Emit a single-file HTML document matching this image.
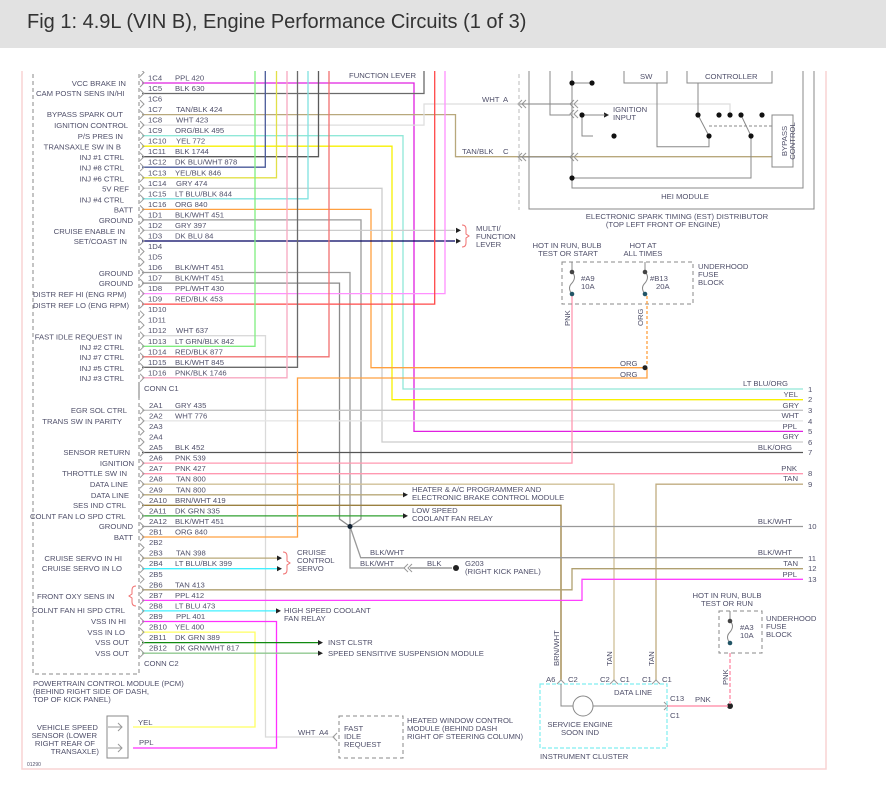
<!DOCTYPE html>
<html><head><meta charset="utf-8"><style>
html,body{margin:0;padding:0;background:#fff;width:886px;height:805px;overflow:hidden}
svg{display:block}
text{font-family:"Liberation Sans",sans-serif;font-size:7.7px;fill:#50506a}
.e{text-anchor:end}.m{text-anchor:middle}
</style></head><body>
<svg width="886" height="805" viewBox="0 0 886 805" xmlns="http://www.w3.org/2000/svg">
<g fill="none" stroke-width="1.3">
<path d="M22 60 V769 H826 V60" stroke="#f8d4d4" stroke-width="1.5"/>
<path d="M33 60 V674 H139 V60" stroke="#888" stroke-dasharray="4,3" stroke-width="1"/>
<polyline points="142,83 414,83 414,431.4 803,431.4" stroke="#e020e0"/>
<polyline points="142,93.5 424,93.5 424,60" stroke="#6a6a6a"/>
<polyline points="142,114.6 455.5,114.6 455.5,156.7 772,156.7" stroke="#b8a87c"/>
<polyline points="142,125.1 424,125.1 424,104 730,104 730,115" stroke="#dedede"/>
<polyline points="142,135.7 403,135.7 403,389 803,389" stroke="#90e8d8"/>
<polyline points="142,146.2 392,146.2 392,399.7 803,399.7" stroke="#f8f000"/>
<polyline points="142,156.7 318.5,156.7 318.5,60" stroke="#5a5a5a"/>
<polyline points="142,167.2 265.3,167.2 265.3,60" stroke="#4a5a9a"/>
<polyline points="142,177.8 276.5,177.8 276.5,60" stroke="#e2e048"/>
<polyline points="142,188.3 382,188.3 382,442 803,442" stroke="#cccccc"/>
<polyline points="142,198.8 308,198.8 308,60" stroke="#80e2e0"/>
<polyline points="142,209.4 371,209.4 371,367.7 645,367.7" stroke="#ffa040"/>
<polyline points="142,219.9 361,219.9 361,519 350,526.5" stroke="#9a9a9a"/>
<polyline points="142,230.4 455,230.4" stroke="#cccccc"/>
<polyline points="142,241 455,241" stroke="#000060"/>
<polyline points="142,272.5 350,272.5 350,526.5" stroke="#9a9a9a"/>
<polyline points="142,283.1 339.5,283.1 339.5,519 350,526.5" stroke="#8a8a8a"/>
<polyline points="142,293.6 445,293.6 445,60" stroke="#ff90ff"/>
<polyline points="142,304.1 434.7,304.1 434.7,60" stroke="#ff4848"/>
<polyline points="142,335.7 265.5,335.7 265.5,737 335,737" stroke="#dadada"/>
<polyline points="142,346.3 255,346.3 255,60" stroke="#80ee80"/>
<polyline points="142,356.8 329,356.8 329,60" stroke="#f07070"/>
<polyline points="142,367.3 297.5,367.3 297.5,60" stroke="#6a6a6a"/>
<polyline points="142,377.8 287,377.8 287,60" stroke="#f8a8c0"/>
<polyline points="142,410.3 803,410.3" stroke="#c4c4c4"/>
<polyline points="142,420.9 803,420.9" stroke="#e4e4e4"/>
<polyline points="142,452.5 803,452.5" stroke="#555"/>
<polyline points="142,463.1 572,463.1 572,296" stroke="#ff98b0"/>
<polyline points="142,473.7 803,473.7" stroke="#ff98b0"/>
<polyline points="142,484.2 614,484.2 614,680" stroke="#d0c098"/>
<polyline points="656,680 656,484.2 803,484.2" stroke="#c0ac80"/>
<polyline points="142,494.8 404,494.8" stroke="#b8a878"/>
<polyline points="142,505.3 561,505.3 561,680" stroke="#9a8040"/>
<polyline points="142,515.9 404,515.9" stroke="#30a030"/>
<polyline points="142,526.5 803,526.5" stroke="#999"/>
<polyline points="142,537 297.5,537 297.5,378 647,378 647,368" stroke="#ffa040"/>
<polyline points="350,526.5 360.7,557.7 803,557.7" stroke="#999"/>
<polyline points="350,526.5 350,568 405,568" stroke="#999"/>
<polyline points="410,568 452,568" stroke="#666" stroke-width="1"/>
<polyline points="142,558.1 278,558.1" stroke="#b8a878"/>
<polyline points="142,568.7 278,568.7" stroke="#40f0ff"/>
<polyline points="142,589.8 572,589.8 572,568.7 803,568.7" stroke="#b0a070"/>
<polyline points="142,600.4 582,600.4 582,579.3 803,579.3" stroke="#ff40ff"/>
<polyline points="142,610.9 278,610.9" stroke="#40f0ff"/>
<polyline points="142,621.5 276.5,621.5 276.5,748 133,748" stroke="#ff30ff"/>
<polyline points="142,632.1 255,632.1 255,727 133,727" stroke="#ffff60"/>
<polyline points="142,642.6 318,642.6" stroke="#108a10"/>
<polyline points="142,653.2 318,653.2" stroke="#90c890"/>
</g>
<g fill="#222">
<path d="M456 227.8 L461 230.4 L456 233 Z"/><path d="M456 238.4 L461 241 L456 243.6 Z"/>
<path d="M403 492.2 L408 494.8 L403 497.4 Z"/><path d="M403 513.3 L408 515.9 L403 518.5 Z"/>
<path d="M277 555.5 L282 558.1 L277 560.7 Z"/><path d="M277 566.1 L282 568.7 L277 571.3 Z"/>
<path d="M276 608.3 L281 610.9 L276 613.5 Z"/>
<path d="M318 640 L323 642.6 L318 645.2 Z"/><path d="M318 650.6 L323 653.2 L318 655.8 Z"/>
<path d="M604 112.4 L609 115 L604 117.6 Z"/>
<circle cx="350" cy="526.5" r="2.5" fill="#123"/>
<circle cx="456" cy="568" r="3"/>
<circle cx="645" cy="367.7" r="2.5"/>
<circle cx="730" cy="706" r="3"/>
</g>
<g fill="none" stroke="#999" stroke-width="1">
<path d="M140 68.5l4 4-4 4M140 79l4 4-4 4M140 89.5l4 4-4 4M140 100.1l4 4-4 4M140 110.6l4 4-4 4M140 121.1l4 4-4 4M140 131.7l4 4-4 4M140 142.2l4 4-4 4M140 152.7l4 4-4 4M140 163.2l4 4-4 4M140 173.8l4 4-4 4M140 184.3l4 4-4 4M140 194.8l4 4-4 4M140 205.4l4 4-4 4M140 215.9l4 4-4 4M140 226.4l4 4-4 4M140 237l4 4-4 4M140 247.5l4 4-4 4M140 258l4 4-4 4M140 268.5l4 4-4 4M140 279.1l4 4-4 4M140 289.6l4 4-4 4M140 300.1l4 4-4 4M140 310.7l4 4-4 4M140 321.2l4 4-4 4M140 331.7l4 4-4 4M140 342.3l4 4-4 4M140 352.8l4 4-4 4M140 363.3l4 4-4 4M140 373.8l4 4-4 4"/>
<path d="M140 406.3l4 4-4 4M140 416.9l4 4-4 4M140 427.4l4 4-4 4M140 438l4 4-4 4M140 448.5l4 4-4 4M140 459.1l4 4-4 4M140 469.7l4 4-4 4M140 480.2l4 4-4 4M140 490.8l4 4-4 4M140 501.3l4 4-4 4M140 511.9l4 4-4 4M140 522.5l4 4-4 4M140 533l4 4-4 4M140 543.6l4 4-4 4M140 554.1l4 4-4 4M140 564.7l4 4-4 4M140 575.3l4 4-4 4M140 585.8l4 4-4 4M140 596.4l4 4-4 4M140 606.9l4 4-4 4M140 617.5l4 4-4 4M140 628.1l4 4-4 4M140 638.6l4 4-4 4M140 649.2l4 4-4 4"/>
<path d="M139 382 V398" stroke="#777"/>
<path d="M408 564l-4 4 4 4M412 564l-4 4 4 4"/>
<path d="M522 100l-4 4 4 4M526 100l-4 4 4 4M522 153l-4 4 4 4M526 153l-4 4 4 4"/>
<path d="M574 100l-4 4 4 4M578 100l-4 4 4 4M574 110l-4 4 4 4M578 110l-4 4 4 4M574 153l-4 4 4 4M578 153l-4 4 4 4"/>
<path d="M337 733l-4 4 4 4"/>
<path d="M118 723l4 4-4 4M118 744l4 4-4 4M108 727H122M108 748H122"/>
<path d="M557 684l4-4 4 4M610 684l4-4 4 4M652 684l4-4 4 4"/>
<path d="M664 702l4 4-4 4"/>
</g>
<g fill="none" stroke="#f07070" stroke-width="1">
<path d="M462 225 q4 0 4 4 v5 l3 2 l-3 2 v5 q0 4 -4 4"/>
<path d="M283 552 q4 0 4 4 v5 l3 2 l-3 2 v5 q0 4 -4 4"/>
<path d="M136 586 q-4 0 -4 4 v4 l-3 2 l3 2 v4 q0 4 4 4"/>
</g>
<g fill="none" stroke="#888" stroke-width="1">
<path d="M529 60 V209 H814 V60"/>
<path d="M519 60 V210" stroke-dasharray="4,3" stroke="#bbb"/>
<path d="M572 60 V188 H803 V60"/>
<path d="M624 60 V83 H667 V60M687 60 V83 H772 V60"/>
<path d="M550 60 V115 H570"/>
<path d="M572 83 H592 M582 115 H605 M582 115 V136 H593"/>
<path d="M519 104 H571 M519 157 H571"/>
<path d="M657 83 V146.7 H709 V136 M698 83 V115 L709 136 M741 115 L751 136 V178 H572"/>
<path d="M709 126 H772" stroke-dasharray="3,2"/>
<path d="M772 115 H793 V167 H772 Z"/>
</g>
<g fill="#111">
<circle cx="572" cy="83" r="2.6"/><circle cx="592" cy="83" r="2.6"/><circle cx="582" cy="115" r="2.6"/>
<circle cx="614" cy="136" r="2.6"/><circle cx="572" cy="178" r="2.6"/>
<circle cx="698" cy="115" r="2.6"/><circle cx="719" cy="115" r="2.6"/><circle cx="730" cy="115" r="2.6"/><circle cx="741" cy="115" r="2.6"/><circle cx="762" cy="115" r="2.6"/>
<circle cx="709" cy="136" r="2.6"/><circle cx="751" cy="136" r="2.6"/>
</g>
<g fill="none" stroke="#888" stroke-width="1">
<path d="M562 262 H693 V304 H562 Z" stroke-dasharray="4,3"/>
<path d="M572 262 V272 M645 262 V272"/>
<path d="M572 272 q5 5 0 11 q-5 5 0 11 M645 272 q5 5 0 11 q-5 5 0 11"/>
<path d="M719 611 H762 V653 H719 Z" stroke-dasharray="4,3"/>
<path d="M730 611 V621 M730 621 q5 5 0 11 q-5 5 0 11"/>
<path d="M540 684 H667 V748 H540 Z" stroke="#80eef0" stroke-dasharray="4,2" stroke-width="1.2"/>
<path d="M561 684 V706 H573 M593 706 H666"/>
<circle cx="583" cy="706" r="10"/>
<path d="M107 716 H128 V758 H107 Z"/>
<path d="M339 716 H403 V758 H339 Z" stroke-dasharray="4,3"/>
</g>
<path d="M647 296 V366" stroke="#ffa040" stroke-width="1.3" stroke-dasharray="3,2"/>
<path d="M730 653 V704" stroke="#ff98b0" stroke-width="1.5" stroke-dasharray="4,2"/>
<path d="M668 706 H728" stroke="#ff98b0" stroke-width="1.5"/>
<g fill="#444"><circle cx="572" cy="272" r="2.3"/><circle cx="572" cy="294" r="2.3" fill="#256"/><circle cx="645" cy="272" r="2.3"/><circle cx="645" cy="294" r="2.3" fill="#256"/><circle cx="730" cy="621" r="2.3"/><circle cx="730" cy="643" r="2.3" fill="#256"/></g>

<text x="148" y="80.5">1C4</text><text x="175" y="80.5">PPL 420</text>
<text x="148" y="91">1C5</text><text x="175" y="91">BLK 630</text>
<text x="148" y="101.6">1C6</text>
<text x="148" y="112.1">1C7</text><text x="176" y="112.1">TAN/BLK 424</text>
<text x="148" y="122.6">1C8</text><text x="176" y="122.6">WHT 423</text>
<text x="148" y="133.2">1C9</text><text x="175" y="133.2">ORG/BLK 495</text>
<text x="148" y="143.7">1C10</text><text x="176" y="143.7">YEL 772</text>
<text x="148" y="154.2">1C11</text><text x="175" y="154.2">BLK 1744</text>
<text x="148" y="164.7">1C12</text><text x="175" y="164.7">DK BLU/WHT 878</text>
<text x="148" y="175.3">1C13</text><text x="175" y="175.3">YEL/BLK 846</text>
<text x="148" y="185.8">1C14</text><text x="176" y="185.8">GRY 474</text>
<text x="148" y="196.3">1C15</text><text x="175" y="196.3">LT BLU/BLK 844</text>
<text x="148" y="206.9">1C16</text><text x="175" y="206.9">ORG 840</text>
<text x="148" y="217.4">1D1</text><text x="175" y="217.4">BLK/WHT 451</text>
<text x="148" y="227.9">1D2</text><text x="175" y="227.9">GRY 397</text>
<text x="148" y="238.5">1D3</text><text x="175" y="238.5">DK BLU 84</text>
<text x="148" y="249">1D4</text>
<text x="148" y="259.5">1D5</text>
<text x="148" y="270">1D6</text><text x="175" y="270">BLK/WHT 451</text>
<text x="148" y="280.6">1D7</text><text x="175" y="280.6">BLK/WHT 451</text>
<text x="148" y="291.1">1D8</text><text x="175" y="291.1">PPL/WHT 430</text>
<text x="148" y="301.6">1D9</text><text x="175" y="301.6">RED/BLK 453</text>
<text x="148" y="312.2">1D10</text>
<text x="148" y="322.7">1D11</text>
<text x="148" y="333.2">1D12</text><text x="176" y="333.2">WHT 637</text>
<text x="148" y="343.8">1D13</text><text x="175" y="343.8">LT GRN/BLK 842</text>
<text x="148" y="354.3">1D14</text><text x="175" y="354.3">RED/BLK 877</text>
<text x="148" y="364.8">1D15</text><text x="175" y="364.8">BLK/WHT 845</text>
<text x="148" y="375.3">1D16</text><text x="175" y="375.3">PNK/BLK 1746</text>
<text x="144" y="391">CONN C1</text>
<text x="149" y="407.8">2A1</text><text x="175" y="407.8">GRY 435</text>
<text x="149" y="418.4">2A2</text><text x="175" y="418.4">WHT 776</text>
<text x="149" y="428.9">2A3</text>
<text x="149" y="439.5">2A4</text>
<text x="149" y="450">2A5</text><text x="175" y="450">BLK 452</text>
<text x="149" y="460.6">2A6</text><text x="175" y="460.6">PNK 539</text>
<text x="149" y="471.2">2A7</text><text x="175" y="471.2">PNK 427</text>
<text x="149" y="481.7">2A8</text><text x="176" y="481.7">TAN 800</text>
<text x="149" y="492.3">2A9</text><text x="176" y="492.3">TAN 800</text>
<text x="149" y="502.8">2A10</text><text x="175" y="502.8">BRN/WHT 419</text>
<text x="149" y="513.4">2A11</text><text x="175" y="513.4">DK GRN 335</text>
<text x="149" y="524">2A12</text><text x="175" y="524">BLK/WHT 451</text>
<text x="149" y="534.5">2B1</text><text x="175" y="534.5">ORG 840</text>
<text x="149" y="545.1">2B2</text>
<text x="149" y="555.6">2B3</text><text x="176" y="555.6">TAN 398</text>
<text x="149" y="566.2">2B4</text><text x="175" y="566.2">LT BLU/BLK 399</text>
<text x="149" y="576.8">2B5</text>
<text x="149" y="587.3">2B6</text><text x="175" y="587.3">TAN 413</text>
<text x="149" y="597.9">2B7</text><text x="175" y="597.9">PPL 412</text>
<text x="149" y="608.4">2B8</text><text x="175" y="608.4">LT BLU 473</text>
<text x="149" y="619">2B9</text><text x="176" y="619">PPL 401</text>
<text x="149" y="629.6">2B10</text><text x="175" y="629.6">YEL 400</text>
<text x="149" y="640.1">2B11</text><text x="175" y="640.1">DK GRN 389</text>
<text x="149" y="650.7">2B12</text><text x="175" y="650.7">DK GRN/WHT 817</text>
<text x="144" y="666">CONN C2</text>

<text class="e" x="126" y="86">VCC BRAKE IN</text>
<text x="36" y="96">CAM POSTN SENS IN/HI</text>
<text class="e" x="123" y="117">BYPASS SPARK OUT</text>
<text class="e" x="128" y="128">IGNITION CONTROL</text>
<text class="e" x="123" y="139">P/S PRES IN</text>
<text class="e" x="121" y="149.5">TRANSAXLE SW IN B</text>
<text class="e" x="124" y="160">INJ #1 CTRL</text>
<text class="e" x="124" y="170.5">INJ #8 CTRL</text>
<text class="e" x="124" y="181.5">INJ #6 CTRL</text>
<text class="e" x="129" y="191.5">5V REF</text>
<text class="e" x="124" y="202.5">INJ #4 CTRL</text>
<text class="e" x="133" y="212.5">BATT</text>
<text class="e" x="133" y="223">GROUND</text>
<text class="e" x="125" y="234">CRUISE ENABLE IN</text>
<text class="e" x="127" y="244">SET/COAST IN</text>
<text class="e" x="133" y="276">GROUND</text>
<text class="e" x="133" y="286">GROUND</text>
<text x="33" y="297">DISTR REF HI (ENG RPM)</text>
<text x="33" y="308">DISTR REF LO (ENG RPM)</text>
<text class="e" x="122" y="339.5">FAST IDLE REQUEST IN</text>
<text class="e" x="124" y="350">INJ #2 CTRL</text>
<text class="e" x="124" y="360">INJ #7 CTRL</text>
<text class="e" x="124" y="371">INJ #5 CTRL</text>
<text class="e" x="124" y="381">INJ #3 CTRL</text>
<text class="e" x="127" y="413">EGR SOL CTRL</text>
<text class="e" x="122" y="424">TRANS SW IN PARITY</text>
<text class="e" x="130" y="455">SENSOR RETURN</text>
<text class="e" x="134" y="466">IGNITION</text>
<text class="e" x="127" y="476">THROTTLE SW IN</text>
<text class="e" x="128" y="487">DATA LINE</text>
<text class="e" x="129" y="498">DATA LINE</text>
<text class="e" x="126" y="508">SES IND CTRL</text>
<text x="30" y="519">COLNT FAN LO SPD CTRL</text>
<text class="e" x="133" y="529">GROUND</text>
<text class="e" x="133" y="540">BATT</text>
<text class="e" x="122" y="561">CRUISE SERVO IN HI</text>
<text class="e" x="122" y="571">CRUISE SERVO IN LO</text>
<text x="37" y="599">FRONT OXY SENS IN</text>
<text x="32" y="613">COLNT FAN HI SPD CTRL</text>
<text class="e" x="126" y="624">VSS IN HI</text>
<text class="e" x="125" y="635">VSS IN LO</text>
<text class="e" x="129" y="645">VSS OUT</text>
<text class="e" x="129" y="656">VSS OUT</text>
<text x="33" y="686">POWERTRAIN CONTROL MODULE (PCM)</text>
<text x="33" y="694">(BEHIND RIGHT SIDE OF DASH,</text>
<text x="33" y="702">TOP OF KICK PANEL)</text>
<text class="e" x="98" y="730">VEHICLE SPEED</text>
<text class="e" x="97" y="738">SENSOR (LOWER</text>
<text class="e" x="95" y="746">RIGHT REAR OF</text>
<text class="e" x="99" y="754">TRANSAXLE)</text>
<text x="138" y="725">YEL</text><text x="139" y="745">PPL</text>
<text x="27" y="766" style="font-size:5px">01290</text>

<text x="476" y="231">MULTI/</text><text x="476" y="239">FUNCTION</text><text x="476" y="247">LEVER</text>
<text x="349" y="78">FUNCTION LEVER</text>
<text x="412" y="492">HEATER &amp; A/C PROGRAMMER AND</text><text x="412" y="500">ELECTRONIC BRAKE CONTROL MODULE</text>
<text x="412" y="513">LOW SPEED</text><text x="412" y="521">COOLANT FAN RELAY</text>
<text x="297" y="555">CRUISE</text><text x="297" y="563">CONTROL</text><text x="297" y="571">SERVO</text>
<text x="370" y="555">BLK/WHT</text><text x="360" y="566">BLK/WHT</text><text x="427" y="566">BLK</text>
<text x="465" y="566">G203</text><text x="465" y="574">(RIGHT KICK PANEL)</text>
<text x="284" y="613">HIGH SPEED COOLANT</text><text x="284" y="621">FAN RELAY</text>
<text x="328" y="645">INST CLSTR</text>
<text x="328" y="656">SPEED SENSITIVE SUSPENSION MODULE</text>
<text x="298" y="735">WHT</text><text x="319" y="735">A4</text>
<text x="344" y="731">FAST</text><text x="344" y="739">IDLE</text><text x="344" y="747">REQUEST</text>
<text x="407" y="723">HEATED WINDOW CONTROL</text><text x="407" y="731">MODULE (BEHIND DASH</text><text x="407" y="739">RIGHT OF STEERING COLUMN)</text>
<text x="482" y="102">WHT</text><text x="503" y="102">A</text>
<text x="462" y="154">TAN/BLK</text><text x="503" y="154">C</text>
<text x="613" y="112">IGNITION</text><text x="613" y="120">INPUT</text>
<text x="640" y="79">SW</text><text x="705" y="79">CONTROLLER</text>
<text class="m" x="685" y="199">HEI MODULE</text>
<text class="m" x="677" y="219">ELECTRONIC SPARK TIMING (EST) DISTRIBUTOR</text>
<text class="m" x="663" y="227">(TOP LEFT FRONT OF ENGINE)</text>
<text transform="translate(787,141) rotate(-90)" class="m">BYPASS</text>
<text transform="translate(795,141) rotate(-90)" class="m">CONTROL</text>
<text class="m" x="567" y="248">HOT IN RUN, BULB</text><text class="m" x="568" y="256">TEST OR START</text>
<text class="m" x="643" y="248">HOT AT</text><text class="m" x="643" y="256">ALL TIMES</text>
<text x="698" y="269">UNDERHOOD</text><text x="698" y="277">FUSE</text><text x="698" y="285">BLOCK</text>
<text x="581" y="281">#A9</text><text x="581" y="289">10A</text>
<text x="650" y="281">#B13</text><text x="656" y="289">20A</text>
<text transform="translate(570,326) rotate(-90)">PNK</text>
<text transform="translate(643,326) rotate(-90)">ORG</text>
<text x="620" y="366">ORG</text><text x="620" y="377">ORG</text>
<text class="m" x="727" y="598">HOT IN RUN, BULB</text><text class="m" x="727" y="606">TEST OR RUN</text>
<text x="766" y="621">UNDERHOOD</text><text x="766" y="629">FUSE</text><text x="766" y="637">BLOCK</text>
<text x="740" y="630">#A3</text><text x="740" y="638">10A</text>
<text transform="translate(728,685) rotate(-90)">PNK</text>
<text class="e" x="788" y="386">LT BLU/ORG</text><text x="808" y="392">1</text>
<text class="e" x="798" y="397">YEL</text><text x="808" y="402">2</text>
<text class="e" x="799" y="408">GRY</text><text x="808" y="413">3</text>
<text class="e" x="799" y="418">WHT</text><text x="808" y="424">4</text>
<text class="e" x="797" y="429">PPL</text><text x="808" y="434">5</text>
<text class="e" x="799" y="439">GRY</text><text x="808" y="445">6</text>
<text class="e" x="792" y="450">BLK/ORG</text><text x="808" y="455">7</text>
<text class="e" x="797" y="471">PNK</text><text x="808" y="476">8</text>
<text class="e" x="798" y="481">TAN</text><text x="808" y="487">9</text>
<text class="e" x="792" y="524">BLK/WHT</text><text x="808" y="529">10</text>
<text class="e" x="792" y="555">BLK/WHT</text><text x="808" y="561">11</text>
<text class="e" x="798" y="566">TAN</text><text x="808" y="571">12</text>
<text class="e" x="797" y="577">PPL</text><text x="808" y="582">13</text>
<text transform="translate(559,666) rotate(-90)">BRN/WHT</text>
<text transform="translate(612,666) rotate(-90)">TAN</text>
<text transform="translate(654,666) rotate(-90)">TAN</text>
<text x="546" y="682">A6</text><text x="568" y="682">C2</text>
<text x="600" y="682">C2</text><text x="620" y="682">C1</text>
<text x="642" y="682">C1</text><text x="662" y="682">C1</text>
<text x="614" y="695">DATA LINE</text>
<text x="670" y="701">C13</text><text x="695" y="702">PNK</text><text x="670" y="718">C1</text>
<text class="m" x="580" y="727">SERVICE ENGINE</text><text class="m" x="580" y="735">SOON IND</text>
<text x="540" y="759">INSTRUMENT CLUSTER</text>
<rect x="0" y="48" width="886" height="23" fill="#fff"/>
<rect x="0" y="0" width="886" height="48" fill="#e2e2e2"/>
<text x="27" y="28" style="font-size:20px;fill:#333">Fig 1: 4.9L (VIN B), Engine Performance Circuits (1 of 3)</text>
</svg>
</body></html>
